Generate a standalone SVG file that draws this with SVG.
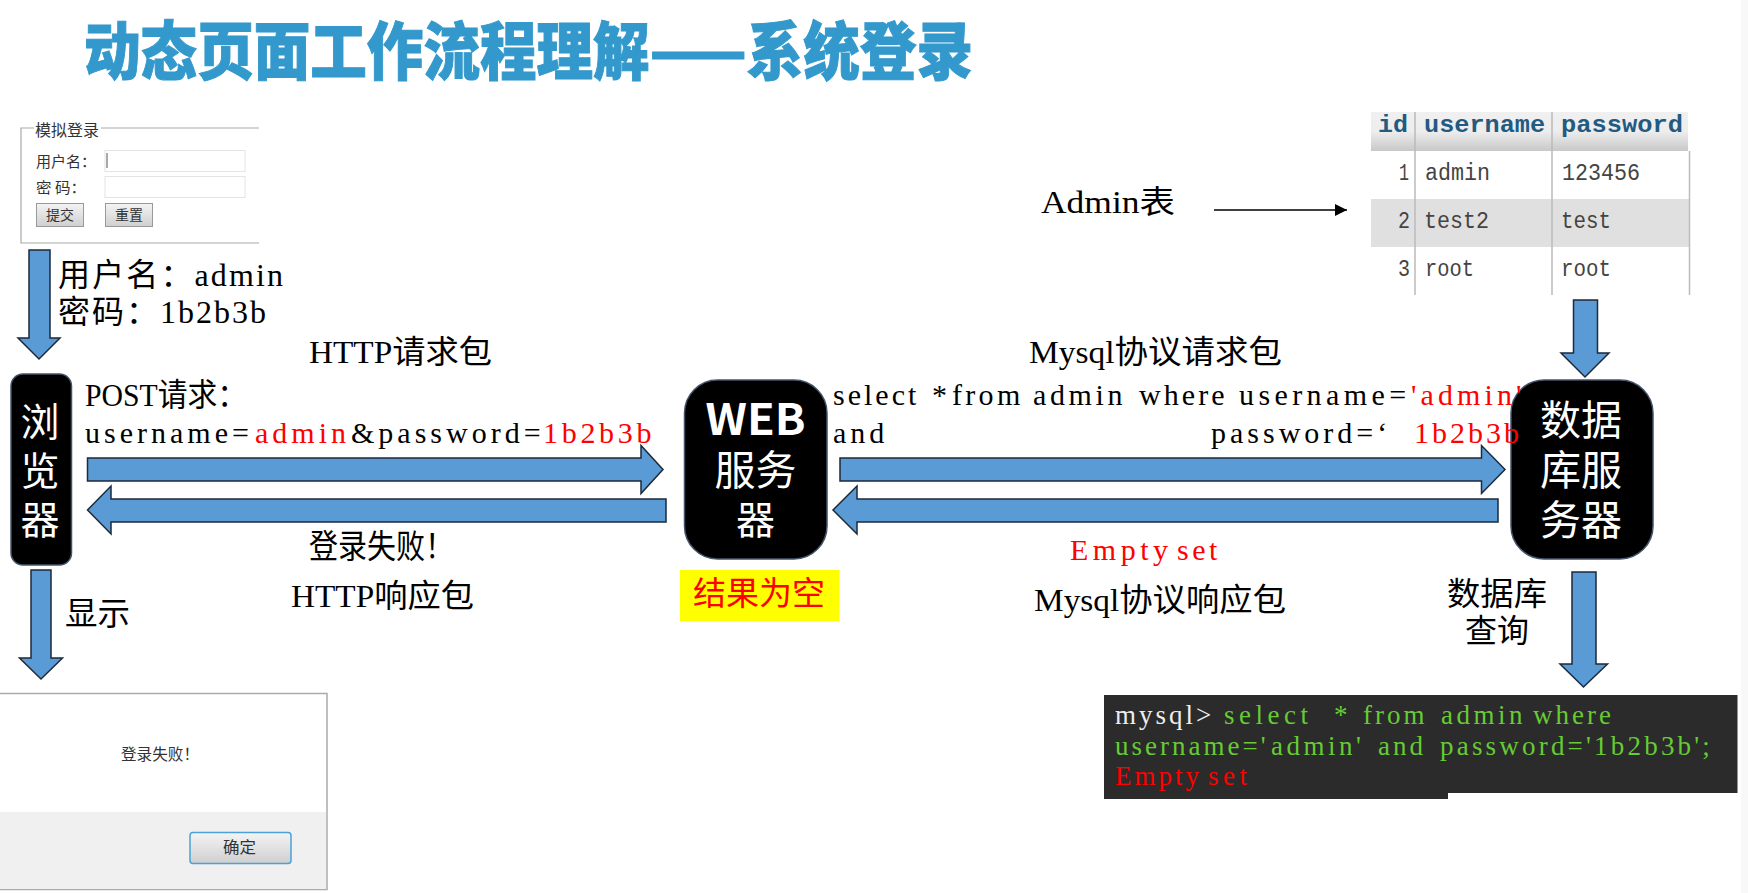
<svg xmlns="http://www.w3.org/2000/svg" width="1748" height="893" viewBox="0 0 1748 893">
<style>
text{font-family:"Liberation Serif","Noto Sans CJK SC",serif;fill:#000}
.t30{font-size:30px}
.cjk{font-size:32px}
.red{fill:#f00}
.node{fill:#000;stroke:#44546a;stroke-width:1.5}
.nt{font-family:"Noto Sans CJK SC",sans-serif;font-size:39px;fill:#fff;text-anchor:middle}
.ar{fill:#5b9bd5;stroke:#1d2a3a;stroke-width:1.5}
.ui{font-family:"Noto Sans CJK SC",sans-serif;font-size:15px;fill:#333}
.inp{fill:#fff;stroke:#e4e4e4;stroke-width:1}
.btn{fill:url(#gb);stroke:#999;stroke-width:1}
.th{font-family:"Liberation Mono",monospace;font-size:24px;font-weight:700;fill:#235a81}
.td{font-family:"Liberation Mono",monospace;font-size:23px;fill:#444}
.sep{stroke:#bbb;stroke-width:1.5}
.tm{font-size:27px;fill:#6c3}
</style>
<defs>
<linearGradient id="gb" x1="0" y1="0" x2="0" y2="1"><stop offset="0" stop-color="#f4f4f4"/><stop offset="1" stop-color="#cfcfcf"/></linearGradient>
<linearGradient id="gh" x1="0" y1="0" x2="0" y2="1"><stop offset="0" stop-color="#f0f0f0"/><stop offset="0.5" stop-color="#ededed"/><stop offset="1" stop-color="#c8c8c8"/></linearGradient>
<marker id="head" markerWidth="13" markerHeight="12" refX="12" refY="6" orient="auto" markerUnits="userSpaceOnUse"><path d="M0 0L12 6L0 12Z" fill="#000"/></marker>
</defs>
<rect width="1748" height="893" fill="#fff"/>
<rect x="1741" y="0" width="7" height="893" fill="#f8f8f8"/>

<text id="title" x="84" y="74" textLength="889" lengthAdjust="spacingAndGlyphs" style="font-family:'Noto Sans CJK SC',sans-serif;font-weight:900;font-size:63px;fill:#3399cc;stroke:#3399cc;stroke-width:1">动态页面工作流程理解——系统登录</text>

<g id="login-form">
<path d="M259 128H21V243H259" fill="none" stroke="#aaa" stroke-width="1.2"/>
<rect x="34" y="120" width="67" height="16" fill="#fff"/>
<text class="ui" x="35" y="136" textLength="64" lengthAdjust="spacingAndGlyphs" style="font-size:16px">模拟登录</text>
<text class="ui" x="36" y="167" textLength="60" lengthAdjust="spacingAndGlyphs">用户名：</text>
<rect class="inp" x="105" y="150.500" width="140" height="21"/>
<path d="M107 153V168" stroke="#555" stroke-width="1"/>
<text class="ui" x="36" y="193" textLength="50" lengthAdjust="spacingAndGlyphs">密 码：</text>
<rect class="inp" x="105" y="176.500" width="140" height="21"/>
<rect class="btn" x="36.500" y="203.500" width="47" height="23"/>
<text class="ui" x="46" y="220" textLength="28" lengthAdjust="spacingAndGlyphs" style="font-size:14px">提交</text>
<rect class="btn" x="105.500" y="203.500" width="47" height="23"/>
<text class="ui" x="115" y="220" textLength="28" lengthAdjust="spacingAndGlyphs" style="font-size:14px">重置</text>
</g>

<g id="table">
<rect x="1371" y="112" width="317" height="39" fill="url(#gh)"/>
<rect x="1371" y="199" width="319" height="48" fill="#e0e0e0"/>
<path class="sep" d="M1415 112V295M1552 112V295M1689.500 151V295" fill="none"/>
<text class="th" x="1378" y="132" textLength="30" lengthAdjust="spacingAndGlyphs">id</text>
<text class="th" x="1424" y="132" textLength="121" lengthAdjust="spacingAndGlyphs">username</text>
<text class="th" x="1561" y="132" textLength="122" lengthAdjust="spacingAndGlyphs">password</text>
<text class="td" x="1399" y="180" textLength="10" lengthAdjust="spacingAndGlyphs">1</text>
<text class="td" x="1425" y="180" textLength="65" lengthAdjust="spacingAndGlyphs">admin</text>
<text class="td" x="1562" y="180" textLength="78" lengthAdjust="spacingAndGlyphs">123456</text>
<text class="td" x="1398" y="228" textLength="12" lengthAdjust="spacingAndGlyphs">2</text>
<text class="td" x="1424" y="228" textLength="65" lengthAdjust="spacingAndGlyphs">test2</text>
<text class="td" x="1561" y="228" textLength="50" lengthAdjust="spacingAndGlyphs">test</text>
<text class="td" x="1398" y="276" textLength="12" lengthAdjust="spacingAndGlyphs">3</text>
<text class="td" x="1425" y="276" textLength="49" lengthAdjust="spacingAndGlyphs">root</text>
<text class="td" x="1561" y="276" textLength="50" lengthAdjust="spacingAndGlyphs">root</text>
</g>

<g id="browser">
<rect class="node" x="11" y="374" width="60.500" height="191" rx="12"/>
<text class="nt" x="40" y="436">浏</text>
<text class="nt" x="40" y="485">览</text>
<text class="nt" x="40" y="534">器</text>
</g>
<g id="web-server">
<rect class="node" x="684.500" y="380" width="142.500" height="179" rx="33"/>
<text x="755.500" y="435" textLength="100" lengthAdjust="spacingAndGlyphs" style="font-family:'Noto Sans CJK SC',sans-serif;font-size:43px;font-weight:700;fill:#fff;text-anchor:middle">WEB</text>
<text class="nt" x="755.500" y="485" style="font-size:41px">服务</text>
<text class="nt" x="755.500" y="534">器</text>
</g>
<g id="db-server">
<rect class="node" x="1511" y="380" width="142" height="179" rx="33"/>
<text class="nt" x="1581" y="435" style="font-size:41px">数据</text>
<text class="nt" x="1581" y="485" style="font-size:41px">库服</text>
<text class="nt" x="1581" y="535" style="font-size:41px">务器</text>
</g>

<g id="connectors">
<path class="ar" d="M29 250H50V338H60L39 359L18 338H29Z"/>
<path class="ar" d="M31 570H51V658H62.500L41 679L19.500 658H31Z"/>
<path class="ar" d="M1573.500 300H1597.500V353H1609L1585 377L1561 353H1573.500Z"/>
<path class="ar" d="M1572 572H1596V664H1607.500L1583.500 687L1560 664H1572Z"/>
<path class="ar" d="M87.500 458H641V445.500L663 469.500L641 493.500V481H87.500Z"/>
<path class="ar" d="M666 499V522H111V534L87.500 510L111 486V499Z"/>
<path class="ar" d="M840 458H1481.500V445.500L1505 469.500L1481.500 493.500V481H840Z"/>
<path class="ar" d="M1498 499V522H857V534L833 510L857 486V499Z"/>
<path d="M1214 210H1347" stroke="#000" stroke-width="1.5" fill="none" marker-end="url(#head)"/>
</g>

<g id="labels">
<text class="cjk" x="58" y="286" textLength="225" lengthAdjust="spacing">用户名：admin</text>
<text class="cjk" x="58" y="323" textLength="208" lengthAdjust="spacing">密码：1b2b3b</text>
<text class="cjk" x="309" y="363" textLength="183" lengthAdjust="spacingAndGlyphs">HTTP请求包</text>
<text class="cjk" x="85" y="406" textLength="162" lengthAdjust="spacingAndGlyphs">POST请求：</text>
<text class="t30" x="85" y="443" style="letter-spacing:4px">username=<tspan class="red" x="255">admin</tspan><tspan x="351">&amp;password=</tspan><tspan class="red" x="543" style="letter-spacing:3.700px">1b2b3b</tspan></text>
<text class="cjk" x="1029" y="363" textLength="253" lengthAdjust="spacingAndGlyphs">Mysql协议请求包</text>
<text class="t30" x="833" y="405" style="letter-spacing:3px">select<tspan x="932">*</tspan><tspan x="952" style="letter-spacing:3.300px">from</tspan><tspan x="1033" style="letter-spacing:3.600px">admin</tspan><tspan x="1139" style="letter-spacing:3.100px">where</tspan><tspan x="1239" style="letter-spacing:4.400px">username=</tspan><tspan class="red" x="1411" style="letter-spacing:4.100px">'admin'</tspan></text>
<text class="t30" x="833" y="443" style="letter-spacing:4px">and<tspan x="1211">password=‘</tspan><tspan class="red" x="1414" style="letter-spacing:3px">1b2b3b</tspan></text>
<text class="cjk" x="1041" y="213" textLength="134" lengthAdjust="spacingAndGlyphs">Admin表</text>
<text class="cjk" x="309" y="558" textLength="145" lengthAdjust="spacingAndGlyphs" style="font-size:33px">登录失败！</text>
<text class="cjk" x="291" y="607" textLength="183" lengthAdjust="spacingAndGlyphs">HTTP响应包</text>
<text class="cjk" x="65" y="625" textLength="65" lengthAdjust="spacingAndGlyphs">显示</text>
<text class="t30 red" x="1070" y="560" style="letter-spacing:4.500px">Empty<tspan x="1177" style="letter-spacing:3.500px">set</tspan></text>
<text class="cjk" x="1034" y="611" textLength="252" lengthAdjust="spacingAndGlyphs">Mysql协议响应包</text>
<text class="cjk" x="1447" y="605" textLength="100" lengthAdjust="spacingAndGlyphs">数据库</text>
<text class="cjk" x="1465" y="642" textLength="64" lengthAdjust="spacingAndGlyphs">查询</text>
</g>

<g id="result-empty">
<rect x="680" y="570" width="159.500" height="51" fill="#ff0"/>
<text class="red" x="693" y="605" textLength="132" lengthAdjust="spacingAndGlyphs" style="font-size:33px">结果为空</text>
</g>

<g id="dialog">
<rect x="-2" y="693.500" width="329" height="196" fill="#fff" stroke="#aaa" stroke-width="1.5"/>
<rect x="0" y="812" width="326" height="77" fill="#f0f0f0"/>
<text class="ui" x="121" y="760" textLength="78" lengthAdjust="spacingAndGlyphs" style="font-size:16px">登录失败！</text>
<rect x="190" y="832.500" width="101" height="31" rx="3" fill="url(#gb)" stroke="#4aa3d3" stroke-width="1.5"/>
<text class="ui" x="223" y="853" textLength="33" lengthAdjust="spacingAndGlyphs" style="font-size:16px">确定</text>
</g>

<g id="terminal">
<path d="M1104 695H1737.500V793H1448V799H1104Z" fill="#2b2b2b"/>
<text class="tm" x="1115" y="724" style="fill:#eee;letter-spacing:3px">mysql&gt;<tspan class="tm" x="1224" style="letter-spacing:4.500px">select</tspan><tspan class="tm" x="1334">*</tspan><tspan class="tm" x="1363" style="letter-spacing:3px">from</tspan><tspan class="tm" x="1441" style="letter-spacing:3.500px">admin</tspan><tspan class="tm" x="1533" style="letter-spacing:3px">where</tspan></text>
<text class="tm" x="1115" y="755" style="letter-spacing:3px">username='<tspan x="1271" style="letter-spacing:3.500px">admin'</tspan><tspan x="1378" style="letter-spacing:3px">and</tspan><tspan x="1440" style="letter-spacing:3.200px">password='1b2b3b';</tspan></text>
<text class="tm red" x="1115" y="785" style="letter-spacing:3px;fill:#f00">Empty<tspan x="1208" style="letter-spacing:4.500px">set</tspan></text>
</g>
</svg>
